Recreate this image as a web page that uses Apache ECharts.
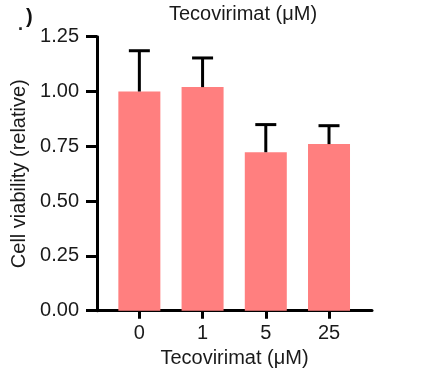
<!DOCTYPE html>
<html><head><meta charset="utf-8">
<script src="https://cdn.jsdelivr.net/npm/echarts@6/dist/echarts.min.js"></script>
<style>html,body{margin:0;padding:0;background:#fff}#c{width:422px;height:368px}</style>
</head><body><div id="c"></div>
<script>
var categories = ['0', '1', '5', '25'];
var means = [1.00, 1.02, 0.723, 0.760];
var upper = [1.186, 1.153, 0.849, 0.844];
var FONT = 'Liberation Sans, Arial, sans-serif';

var chart = echarts.init(document.getElementById('c'));
var idx = categories.map(function (c, i) { return i; });
chart.setOption({
  animation: false,
  grid: { left: 97, right: 50, top: 36.7, bottom: 57.3, containLabel: false, outerBoundsMode: 'none' },
  title: {
    text: 'Tecovirimat (μM)', left: 238, top: -1, textAlign: 'center',
    textStyle: { fontFamily: FONT, fontSize: 20, fontWeight: 'normal', color: '#1a1a1a' }
  },
  graphic: [{
    type: 'text', left: 26, top: 7,
    style: { text: ')', font: 'bold 20px ' + FONT, fill: '#111' }
  }, {
    type: 'text', left: 18, top: 16,
    style: { text: '.', font: 'bold 18px ' + FONT, fill: '#222' }
  }],
  xAxis: {
    type: 'value', min: -0.67, max: 3.68,
    name: 'Tecovirimat (μM)', nameLocation: 'middle', nameGap: 36,
    nameTextStyle: { fontFamily: FONT, fontSize: 20, color: '#1a1a1a' },
    axisLine: { show: true, onZero: false, lineStyle: { color: '#000', width: 3 } },
    axisTick: { show: true, customValues: idx, length: 8, lineStyle: { color: '#000', width: 3 } },
    axisLabel: {
      customValues: idx, margin: 13,
      formatter: function (v) { return categories[Math.round(v)]; },
      fontFamily: FONT, fontSize: 20, color: '#1a1a1a'
    },
    splitLine: { show: false }
  },
  yAxis: {
    type: 'value', min: 0, max: 1.25, interval: 0.25,
    name: 'Cell viability (relative)', nameLocation: 'middle', nameGap: 61, nameRotate: 90,
    nameTextStyle: { fontFamily: FONT, fontSize: 20, color: '#1a1a1a' },
    axisLine: { show: true, onZero: false, lineStyle: { color: '#000', width: 3 } },
    axisTick: { show: true, length: 11, lineStyle: { color: '#000', width: 3 } },
    axisLabel: {
      margin: 18, fontFamily: FONT, fontSize: 20, color: '#1a1a1a',
      formatter: function (v) { return v.toFixed(2); }
    },
    splitLine: { show: false }
  },
  series: [{
    type: 'bar', barWidth: 42,
    itemStyle: { color: '#FF7F7F' },
    data: means.map(function (m, i) { return [i, m]; }),
    z: 2
  }, {
    type: 'custom',
    data: means.map(function (m, i) { return [i, m, upper[i]]; }),
    renderItem: function (params, api) {
      var x = api.value(0);
      var p0 = api.coord([x, api.value(1)]);
      var p1 = api.coord([x, api.value(2)]);
      var hw = 10.5;
      return {
        type: 'group',
        children: [
          { type: 'line', shape: { x1: p0[0], y1: p0[1], x2: p1[0], y2: p1[1] }, style: { stroke: '#000', lineWidth: 3 } },
          { type: 'line', shape: { x1: p1[0] - hw, y1: p1[1], x2: p1[0] + hw, y2: p1[1] }, style: { stroke: '#000', lineWidth: 3 } }
        ]
      };
    },
    z: 3
  }]
});
</script></body></html>
